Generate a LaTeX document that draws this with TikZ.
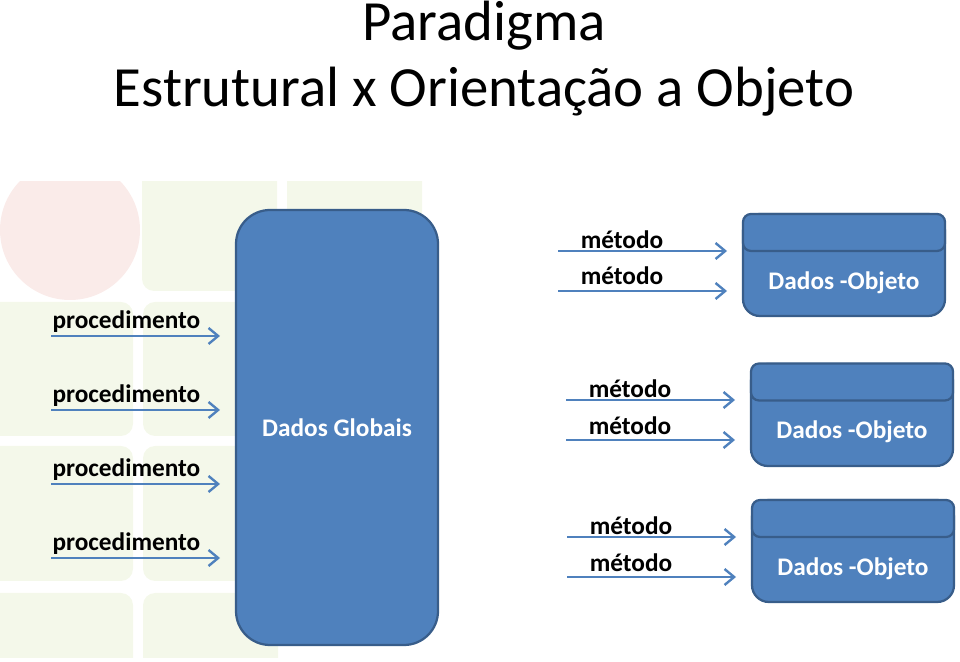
\documentclass[tikz,border=0pt]{standalone}
\usepackage{fontspec}
\setmainfont{Carlito}
\usepackage{xcolor}
\usetikzlibrary{arrows.meta,positioning,shapes}
\definecolor{boxfill}{HTML}{4F81BD}
\definecolor{boxline}{HTML}{385D8A}
\definecolor{tilegreen}{HTML}{F4F8EA}
\definecolor{circlepink}{HTML}{FAEBE9}

\tikzset{
    title_text/.style={anchor=base, font=\fontsize{40.4}{40.4}\selectfont},
    call_text/.style={anchor=base, font=\fontsize{18}{18}\selectfont\bfseries},
    data_text/.style={text=white, font=\fontsize{18}{18}\selectfont\bfseries},
    data_box/.style={
        rectangle,
        draw=boxline,
        line width=1.6pt,
        fill=boxfill
    },
    global_box/.style={data_box, data_text, rounded corners=0.85cm, minimum width=5.05cm, minimum height=10.875cm},
    object_body/.style={data_box, rounded corners=0.42cm, minimum width=5.05cm, minimum height=2.55cm},
    object_head/.style={data_box, rounded corners=0.2cm, minimum width=5.05cm, minimum height=0.925cm},
    call_arrow/.style={-{Straight Barb[length=0.24cm, width=0.4cm]}, draw=boxfill, line width=1.7pt},
    tile/.style={fill=tilegreen, rounded corners=0.3cm}
}

\begin{document}
\begin{tikzpicture}
    \useasboundingbox (0, 0) rectangle (24, 16.55);

    % logo behind the left half
    \begin{scope}
        \clip (0, 0.1) rectangle (24, 12);
        \fill[circlepink] (1.75, 10.8) circle (1.75);
        \fill[tile] (3.55, 9.275) rectangle (6.925, 13);
        \fill[tile] (7.175, 9.275) rectangle (10.55, 13);
        \fill[tile] (-0.5, 5.65) rectangle (3.325, 9.0);
        \fill[tile] (3.575, 5.65) rectangle (6.95, 9.0);
        \fill[tile] (-0.5, 2.025) rectangle (3.325, 5.4);
        \fill[tile] (3.575, 2.025) rectangle (6.95, 5.4);
        \fill[tile] (-0.5, -1) rectangle (3.325, 1.725);
        \fill[tile] (3.575, -1) rectangle (6.95, 1.725);
    \end{scope}

    \node (title_top) [title_text, shift={(12.1, 15.525)}]
    {
        Paradigma
    };
    \node (title_bottom) [title_text, shift={(12.1, 13.875)}]
    {
        Estrutural x Orientação a Objeto
    };

    \node (dados_globais) [global_box, shift={(8.425, 5.8625)}]
    {
        Dados Globais
    };

    \node (corpo_a) [object_body, shift={(21.1, 9.925)}] {};
    \node (cabecalho_a) [object_head, shift={(21.1, 10.7375)}] {};
    \node (dados_objeto_a) [data_text, shift={(21.1, 9.475)}]
    {
        Dados -Objeto
    };
    \node (corpo_b) [object_body, shift={(21.3, 6.175)}] {};
    \node (cabecalho_b) [object_head, shift={(21.3, 7.0)}] {};
    \node (dados_objeto_b) [data_text, shift={(21.3, 5.75)}]
    {
        Dados -Objeto
    };
    \node (corpo_c) [object_body, shift={(21.325, 2.775)}] {};
    \node (cabecalho_c) [object_head, shift={(21.325, 3.5875)}] {};
    \node (dados_objeto_c) [data_text, shift={(21.325, 2.325)}]
    {
        Dados -Objeto
    };

    \node (procedimento_a) [call_text, shift={(3.16, 8.325)}]
    {
        procedimento
    };
    \node (procedimento_b) [call_text, shift={(3.16, 6.475)}]
    {
        procedimento
    };
    \node (procedimento_c) [call_text, shift={(3.16, 4.625)}]
    {
        procedimento
    };
    \node (procedimento_d) [call_text, shift={(3.16, 2.775)}]
    {
        procedimento
    };

    \node (metodo_a1) [call_text, shift={(15.55, 10.325)}]
    {
        método
    };
    \node (metodo_a2) [call_text, shift={(15.55, 9.425)}]
    {
        método
    };
    \node (metodo_b1) [call_text, shift={(15.75, 6.6)}]
    {
        método
    };
    \node (metodo_b2) [call_text, shift={(15.75, 5.675)}]
    {
        método
    };
    \node (metodo_c1) [call_text, shift={(15.775, 3.175)}]
    {
        método
    };
    \node (metodo_c2) [call_text, shift={(15.775, 2.25)}]
    {
        método
    };

    \coordinate (proc_a_start) at (1.275, 8.15);
    \coordinate (proc_a_end) at (5.5, 8.15);
    \coordinate (proc_b_start) at (1.275, 6.3);
    \coordinate (proc_b_end) at (5.5, 6.3);
    \coordinate (proc_c_start) at (1.275, 4.45);
    \coordinate (proc_c_end) at (5.5, 4.45);
    \coordinate (proc_d_start) at (1.275, 2.6);
    \coordinate (proc_d_end) at (5.5, 2.6);

    \coordinate (met_a1_start) at (13.95, 10.275);
    \coordinate (met_a1_end) at (18.175, 10.275);
    \coordinate (met_a2_start) at (13.95, 9.275);
    \coordinate (met_a2_end) at (18.175, 9.275);
    \coordinate (met_b1_start) at (14.15, 6.55);
    \coordinate (met_b1_end) at (18.375, 6.55);
    \coordinate (met_b2_start) at (14.15, 5.55);
    \coordinate (met_b2_end) at (18.375, 5.55);
    \coordinate (met_c1_start) at (14.175, 3.125);
    \coordinate (met_c1_end) at (18.4, 3.125);
    \coordinate (met_c2_start) at (14.175, 2.125);
    \coordinate (met_c2_end) at (18.4, 2.125);

    \draw[call_arrow] (proc_a_start) to (proc_a_end);
    \draw[call_arrow] (proc_b_start) to (proc_b_end);
    \draw[call_arrow] (proc_c_start) to (proc_c_end);
    \draw[call_arrow] (proc_d_start) to (proc_d_end);

    \draw[call_arrow] (met_a1_start) to (met_a1_end);
    \draw[call_arrow] (met_a2_start) to (met_a2_end);
    \draw[call_arrow] (met_b1_start) to (met_b1_end);
    \draw[call_arrow] (met_b2_start) to (met_b2_end);
    \draw[call_arrow] (met_c1_start) to (met_c1_end);
    \draw[call_arrow] (met_c2_start) to (met_c2_end);
\end{tikzpicture}
\end{document}
